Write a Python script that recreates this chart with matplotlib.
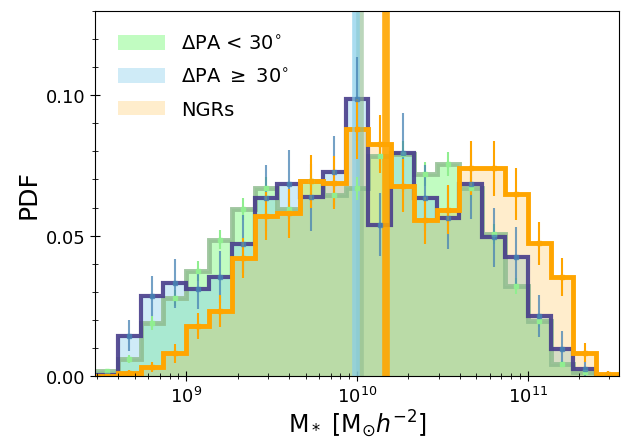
import matplotlib
matplotlib.use('Agg')
import matplotlib.pyplot as plt
import numpy as np
from matplotlib.ticker import MultipleLocator
from matplotlib.patches import Patch

# bin edges in stellar mass (2/15 dex bins)
mass_edges = np.logspace(8.4667, 11.5333, 24)
mass_centers = np.sqrt(mass_edges[:-1] * mass_edges[1:])

# PDF heights
pdf_aligned = [0.0017, 0.0060, 0.0188, 0.0278, 0.0374, 0.0486, 0.0595, 0.0669, 0.0595, 0.0693, 0.0645, 0.0669,
               0.0784, 0.0790, 0.0720, 0.0755, 0.0669, 0.0507, 0.0320, 0.0196, 0.0043, 0.0013, 0.0]
pdf_misaligned = [0.0005, 0.0143, 0.0285, 0.0330, 0.0309, 0.0353, 0.0470, 0.0634, 0.0683, 0.0636, 0.0728, 0.0986,
                  0.0539, 0.0795, 0.0634, 0.0563, 0.0683, 0.0494, 0.0424, 0.0214, 0.0096, 0.0025, 0.0]
pdf_ngr = [0.0, 0.0010, 0.0031, 0.0082, 0.0178, 0.0232, 0.0420, 0.0569, 0.0580, 0.0693, 0.0689, 0.0878,
           0.0825, 0.0677, 0.0554, 0.0592, 0.0740, 0.0740, 0.0648, 0.0472, 0.0354, 0.0084, 0.0007]

# error bars
err_aligned = [0.0007, 0.0014, 0.0025, 0.0030, 0.0035, 0.0035, 0.0039, 0.0041, 0.0039, 0.0042, 0.0041, 0.0041,
               0.0045, 0.0045, 0.0043, 0.0044, 0.0041, 0.0036, 0.0029, 0.0022, 0.0011, 0.0006, 0.0]
err_misaligned = [0.0010, 0.0055, 0.0071, 0.0087, 0.0070, 0.0092, 0.0102, 0.0118, 0.0123, 0.0119, 0.0127, 0.0150,
                  0.0112, 0.0140, 0.0118, 0.0112, 0.0123, 0.0104, 0.0106, 0.0075, 0.0065, 0.0030, 0.0]
err_ngr = [0.0, 0.0012, 0.0018, 0.0034, 0.0047, 0.0056, 0.0070, 0.0086, 0.0087, 0.0095, 0.0094, 0.0107,
           0.0103, 0.0094, 0.0085, 0.0088, 0.0095, 0.0098, 0.0092, 0.0078, 0.0068, 0.0033, 0.0010]

# medians
median_aligned = 1.04e10
median_misaligned = 9.8e9
median_ngr = 1.48e10

fig = plt.figure(figsize=(6.22, 4.39), dpi=100)
ax = fig.add_axes([0.153, 0.141, 0.842, 0.832])

# filled histograms
ax.stairs(pdf_aligned, mass_edges, fill=True, color='palegreen', alpha=0.6, lw=0)
ax.stairs(pdf_misaligned, mass_edges, fill=True, color='skyblue', alpha=0.4, lw=0)
ax.stairs(pdf_ngr, mass_edges, fill=True, color='orange', alpha=0.2, lw=0)

# outlines
ax.stairs(pdf_aligned, mass_edges, color='darkseagreen', lw=3.5, alpha=0.85)
ax.stairs(pdf_misaligned, mass_edges, color='darkslateblue', lw=3, alpha=0.9)
ax.stairs(pdf_ngr, mass_edges, color='orange', lw=3.5)

# medians
ax.axvline(median_aligned, color='darkseagreen', lw=5.5, alpha=0.6)
ax.axvline(median_misaligned, color='skyblue', lw=5.5, alpha=0.7)
ax.axvline(median_ngr, color='orange', lw=5.5, alpha=0.9)

# errorbars
ax.errorbar(mass_centers, pdf_aligned, yerr=err_aligned, fmt='s', ms=3, color='lightgreen', lw=1.5)
ax.errorbar(mass_centers, pdf_misaligned, yerr=err_misaligned, fmt='s', ms=3, color='steelblue', lw=1.5, alpha=0.75)
ax.errorbar(mass_centers, pdf_ngr, yerr=err_ngr, fmt='s', ms=3, color='orange', lw=1.5)

ax.set_xscale('log')
ax.set_xlim(mass_edges[0], mass_edges[-1])
ax.set_ylim(0, 0.13)
ax.set_yticks([0, 0.05, 0.10])
ax.yaxis.set_minor_locator(MultipleLocator(0.01))
ax.tick_params(axis='both', which='major', labelsize=13, direction='inout', length=7)
ax.tick_params(axis='both', which='minor', direction='inout', length=4)

ax.set_xlabel(r'M$_*$ [M$_{\odot}h^{-2}$]', fontsize=17, labelpad=1)
ax.set_ylabel('PDF', fontsize=18)

handles = [Patch(facecolor='palegreen', alpha=0.6),
           Patch(facecolor='skyblue', alpha=0.4),
           Patch(facecolor='orange', alpha=0.2)]
labels = [r'$\Delta$PA < 30$^{\circ}$', r'$\Delta$PA $\geq$ 30$^{\circ}$', 'NGRs']
ax.legend(handles, labels, loc='upper left', frameon=False, fontsize=14, handlelength=2.4, handleheight=0.8,
          labelspacing=0.7, borderaxespad=0.8)

fig.savefig('out.png', dpi=100)
